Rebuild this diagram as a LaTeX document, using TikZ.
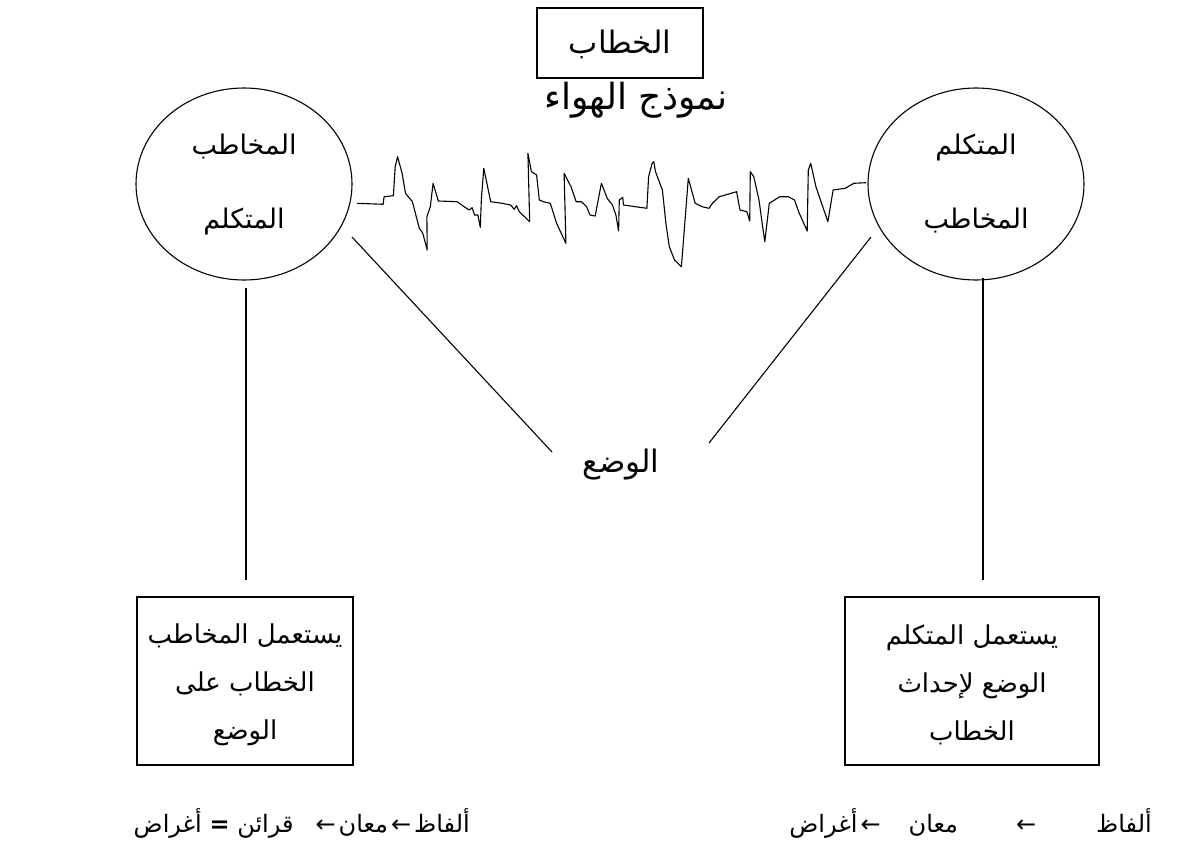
\documentclass[tikz,border=0pt]{standalone}
\usepackage{fontspec}
\setmainfont{DejaVu Sans}
\newfontfamily\arabicfont[Script=Arabic]{DejaVu Sans}
\TeXXeTstate=1
\usetikzlibrary{shapes.geometric}
\newcommand\artxt[1]{\arabicfont\beginR #1\endR}
\tikzset{
  box/.style={draw, line width=1.1pt, rectangle, inner sep=0pt},
  person/.style={draw, line width=1.1pt, ellipse, minimum width=216pt, minimum height=192pt, inner sep=0pt},
  txt/.style={inner sep=0pt, font=\fontsize{31}{40}\selectfont, align=center},
  boxtxt/.style={inner sep=0pt, font=\fontsize{26}{48}\selectfont, align=center},
  smalltxt/.style={inner sep=0pt, font=\fontsize{27}{32}\selectfont},
  bigtxt/.style={inner sep=0pt, font=\fontsize{36}{40}\selectfont},
  foot/.style={inner sep=0pt, font=\fontsize{24}{30}\selectfont},
  link/.style={line width=1.1pt},
}
\begin{document}
\begin{tikzpicture}[x=1pt,y=-1pt]
\useasboundingbox (0,0) rectangle (1187,852);
% top box
\node[box, minimum width=166pt, minimum height=70pt] (K) at (620,43) {};
\node[txt] (Kt) at (620,44) {\artxt{الخطاب}};
\node[bigtxt] (air) at (636,100) {\artxt{نموذج الهواء}};
% circles
\node[person] (L) at (244,184) {};
\node[person] (R) at (976,184) {};
\node[smalltxt] (L1) at (244,147) {\artxt{المخاطب}};
\node[smalltxt] (L2) at (244,221) {\artxt{المتكلم}};
\node[smalltxt] (R1) at (976,147) {\artxt{المتكلم}};
\node[smalltxt] (R2) at (976,221) {\artxt{المخاطب}};
% situation
\node[txt] (W) at (621,465) {\artxt{الوضع}};
% bottom boxes
\node[box, minimum width=216pt, minimum height=168pt] (LB) at (245,681) {};
\node[box, minimum width=254pt, minimum height=168pt] (RB) at (972,681) {};
\node[boxtxt] (LBt) at (245,685) {\artxt{يستعمل المخاطب}\\\artxt{الخطاب على}\\\artxt{الوضع}};
\node[boxtxt] (RBt) at (972,685) {\artxt{يستعمل المتكلم}\\\artxt{الوضع لإحداث}\\\artxt{الخطاب}};
% bottom lines
\node[foot, anchor=east] (LS) at (470,823) {\artxt{ألفاظ\hspace{3pt}←\hspace{3pt}معان\hspace{3pt}←\hspace{22pt}قرائن \textbf{=} أغراض}};
\node[foot, anchor=east] (RS) at (1152,823) {\artxt{ألفاظ\hspace{60pt}←\hspace{58pt}معان\hspace{28pt}←\hspace{3pt}أغراض}};
% connectors
\coordinate (Lv) at (246,288);
\coordinate (LBv) at (246,580);
\coordinate (Rv) at (983,278);
\coordinate (RBv) at (983,580);
\draw[link] (Lv) -- (LBv);
\draw[link] (Rv) -- (RBv);
\coordinate (Ld) at (352,237);
\coordinate (Wl) at (552,452);
\coordinate (Rd) at (871,237);
\coordinate (Wr) at (709,443);
\draw[link] (Ld) -- (Wl);
\draw[link] (Rd) -- (Wr);
% air waveform
\draw[line width=1.1pt, line join=round] (357.2,203.3) -- (383.1,204.3) -- (384.1,196.7) -- (393.4,195.7) -- (395.2,166.7) -- (397.6,156.7) -- (402.1,173.3) -- (405.5,193.3) -- (412.4,201.7) -- (419.3,228.3) -- (422.8,233.3) -- (427.2,250) -- (426.9,216.7) -- (430.3,206.7) -- (433.1,183.3) -- (438.3,201) -- (457.2,201.7) -- (464.1,206.7) -- (469.3,210) -- (472.1,207.7) -- (474.5,215) -- (477.9,215) -- (480.3,227.3) -- (481.4,198.3) -- (483.8,168.3) -- (490.7,201.7) -- (502.1,203.3) -- (510.7,205) -- (514.1,209.3) -- (516.6,205.7) -- (519.3,211.7) -- (529.7,221.7) -- (527.9,153.3) -- (531.4,171.7) -- (536.6,175) -- (539.3,200) -- (543.4,201.7) -- (550.3,203.3) -- (556.6,223.3) -- (565.9,243.3) -- (564.1,173.3) -- (571.0,186.7) -- (576.2,201.7) -- (581.4,201.7) -- (586.6,206.7) -- (590.0,215) -- (595.2,216) -- (596.9,206.7) -- (601.4,183.3) -- (607.2,198.3) -- (612.4,205) -- (615.9,215) -- (618.6,231) -- (619.3,200) -- (622.8,197.3) -- (623.4,205) -- (646.9,208.3) -- (648.6,176.7) -- (652.1,163.3) -- (653.8,161.7) -- (655.5,171.7) -- (662.4,190) -- (665.9,223.3) -- (669.3,246.7) -- (674.5,260) -- (681.4,266.7) -- (684.8,223.3) -- (688.3,178.3) -- (695.2,203.3) -- (702.1,206.7) -- (709.0,208.3) -- (712.4,203.3) -- (719.3,196.7) -- (736.6,191.7) -- (740.0,210) -- (746.9,211.7) -- (749.7,221) -- (750.3,171.7) -- (753.8,176.7) -- (759.0,200) -- (762.4,225) -- (764.8,241.7) -- (769.3,203.3) -- (779.7,196.7) -- (788.3,196.7) -- (794.5,200) -- (798.6,211.7) -- (807.2,231) -- (808.3,170) -- (810.7,163.3) -- (815.9,186.7) -- (827.9,221.7) -- (833.1,190) -- (845.2,188.3) -- (853.8,183.3) -- (865.9,182.7);
\end{tikzpicture}
\end{document}
